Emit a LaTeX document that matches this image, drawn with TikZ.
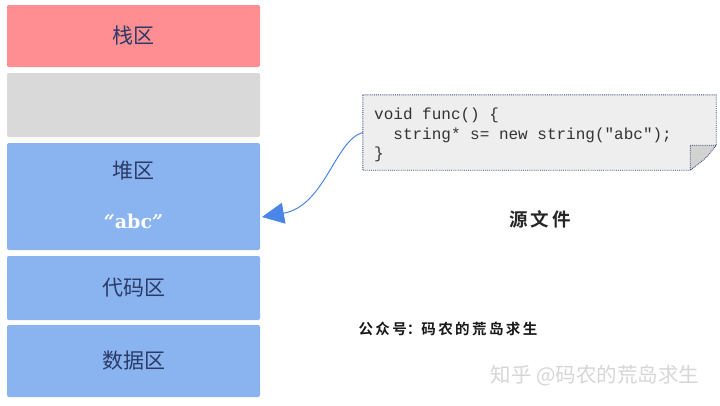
\documentclass[tikz,border=0pt]{standalone}
\usepackage{fontspec}
\setmonofont{Liberation Mono}
\newfontfamily\cjk{Noto Sans CJK SC}
\newfontfamily\cjkb{Noto Sans CJK SC Bold}
\newfontfamily\slab{DejaVu Serif}
\usetikzlibrary{arrows.meta,calc,decorations.pathmorphing}
\definecolor{stackred}{HTML}{FF8E93}
\definecolor{gapgray}{HTML}{D9D9D9}
\definecolor{memblue}{HTML}{8AB4F0}
\definecolor{navy}{HTML}{2B3A67}
\definecolor{arrowblue}{HTML}{4A86E8}
\definecolor{codebg}{HTML}{EEEEEE}
\definecolor{dotblue}{HTML}{3A4E7A}
\begin{document}
\begin{tikzpicture}[x=1pt,y=-1pt,
  membox/.style={minimum width=253pt, inner sep=0pt, outer sep=0pt,
    rounded corners=2pt, text=navy, font=\cjk\fontsize{21}{24}\selectfont},
  codetext/.style={font=\ttfamily\fontsize{16}{19.5}\selectfont, text=black!80, align=left, inner sep=0pt, anchor=north west}
  ]
\useasboundingbox (0,0) rectangle (720,405);
\fill[white] (0,0) rectangle (720,405);

\node[membox, fill=stackred, minimum height=62pt] (stack) at (133.5,36) {栈区};
\node[membox, fill=gapgray, minimum height=64pt] (gap) at (133.5,105) {};
\node[membox, fill=memblue, minimum height=107pt] (heap) at (133.5,196.5) {};
\node[text=navy, font=\cjk\fontsize{21}{24}\selectfont] (heaplabel) at (133.5,171) {堆区};
\node[text=white, font=\slab\bfseries\fontsize{19}{22}\selectfont] (abc) at (133.5,221) {\itshape“\upshape abc\itshape”};
\node[membox, fill=memblue, minimum height=64pt] (code) at (133.5,288) {代码区};
\node[membox, fill=memblue, minimum height=72pt] (data) at (133.5,361) {数据区};

% source file box
\node[minimum width=353pt, minimum height=75pt, inner sep=0pt] (src) at (539.5,132.5) {};
\filldraw[fill=codebg, draw=dotblue, densely dotted, line width=0.9pt]
  (src.north west) -- (src.north east) -- ($(src.south east)+(0,-25)$)
  -- ($(src.south east)+(-26,0)$) -- (src.south west) -- cycle;
\filldraw[fill=gray!35, draw=dotblue, densely dotted, line width=0.9pt]
  ($(src.south east)+(-26,-25)$) -- ($(src.south east)+(0,-25)$)
  .. controls ($(src.south east)+(-10,-12)$) .. ($(src.south east)+(-26,0)$) -- cycle;
\node[codetext] (srctext) at (374,108) {void func() \{\\
\ \ string* s= new string("abc");\\
\}};

\coordinate (tip) at (262,217);
\draw[arrowblue, line width=1pt, -{Triangle[length=22pt,width=21pt]}]
  (src.west) .. controls (335,140) and (325,206) .. (tip);

\node[font=\cjkb\fontsize{18.5}{20}\selectfont, text=black!85] (srclabel) at (540,219) {源\,文\,件};
\node[font=\cjkb\fontsize{14.5}{16}\selectfont, text=black!90, anchor=west] (gzh) at (355,329) {公\,众\,号：码\,农\,的\,荒\,岛\,求\,生};
\node[font=\cjk\fontsize{20.5}{22}\selectfont, text=black!16, anchor=east] (wm) at (703,376) {知乎 @码农的荒岛求生};
\end{tikzpicture}
\end{document}
